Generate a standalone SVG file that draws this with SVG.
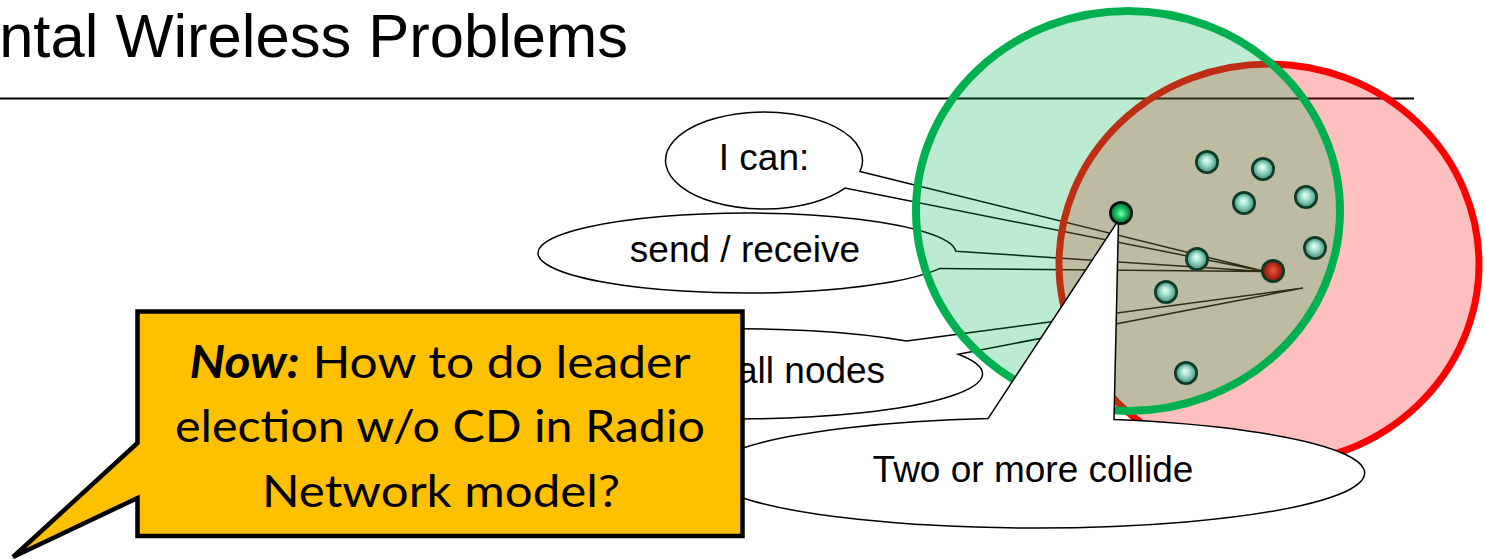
<svg xmlns="http://www.w3.org/2000/svg" width="1485" height="559" viewBox="0 0 1485 559">
  <defs>
    <radialGradient id="gTeal" cx="0.5" cy="0.5" r="0.5" fx="0.45" fy="0.38">
      <stop offset="0" stop-color="#effffa"/>
      <stop offset="0.45" stop-color="#a8e3d3"/>
      <stop offset="1" stop-color="#4e9c85"/>
    </radialGradient>
    <radialGradient id="gGreen" cx="0.5" cy="0.5" r="0.5" fx="0.5" fy="0.55">
      <stop offset="0" stop-color="#7dffb5"/>
      <stop offset="0.5" stop-color="#1fc865"/>
      <stop offset="1" stop-color="#0a7a3a"/>
    </radialGradient>
    <radialGradient id="gRed" cx="0.5" cy="0.5" r="0.5" fx="0.5" fy="0.45">
      <stop offset="0" stop-color="#d9614a"/>
      <stop offset="0.55" stop-color="#c2321e"/>
      <stop offset="1" stop-color="#8c1a10"/>
    </radialGradient>
  </defs>
  <style>
    .title { font-family: "Liberation Sans", Arial, sans-serif; font-size: 61.5px; fill: #000; }
    .rule { stroke: #000; stroke-width: 2; }
    .range-red { fill: #ff0000; fill-opacity: 0.25; stroke: #ff0000; stroke-width: 7; }
    .range-green { fill: #00b050; fill-opacity: 0.26; stroke: #00b050; stroke-width: 8; }
    .ring { fill: #0c3a25; }
    .callout { fill: #fff; stroke: #000; stroke-width: 1.5; stroke-linejoin: miter; }
    .ctext { font-family: "Liberation Sans", Arial, sans-serif; font-size: 37px; fill: #000; }
    .note { fill: #ffc000; stroke: #000; stroke-width: 4.5; stroke-linejoin: miter; }
    .ntext { font-family: Lato, "Open Sans", sans-serif; font-size: 45px; fill: #000; text-anchor: middle; }
  </style>

  <!-- slide heading and rule -->
  <text class="title" x="628" y="57" text-anchor="end">ntal Wireless Problems</text>
  <line class="rule" x1="0" y1="98.5" x2="1414" y2="98.5"/>

  <!-- speech bubbles whose tails run underneath the translucent ranges -->
  <g id="connectors">
    <g id="bubble-ican">
      <path class="callout" d="M860,171.4 L1263,271 L845,188.1 A98.5,48.5 0 1 1 860,171.4 Z"/>
      <text class="ctext" x="764" y="170" text-anchor="middle">I can:</text>
    </g>
    <g id="bubble-sendrecv">
      <path class="callout" d="M955.8,251.2 L1264,271.5 L940,268.4 A209,40 0 1 1 955.8,251.2 Z"/>
      <text class="ctext" x="745" y="262" text-anchor="middle">send / receive</text>
    </g>
    <g id="bubble-allnodes">
      <path class="callout" d="M906.7,341.1 L1303,288 L958.3,354.2 A241,45 0 1 1 906.7,341.1 Z"/>
      <text class="ctext" x="737" y="383">all nodes</text>
    </g>
  </g>

  <!-- transmission ranges -->
  <g id="range-receiver">
    <ellipse class="range-red" cx="1269" cy="264" rx="210" ry="200"/>
  </g>
  <g id="range-sender">
    <ellipse class="range-green" cx="1128" cy="211" rx="212" ry="200"/>
  </g>

  <!-- wireless nodes -->
  <g id="node-1"><circle class="ring" cx="1207" cy="162" r="12"/><circle cx="1207" cy="162" r="9.3" fill="url(#gTeal)"/></g>
  <g id="node-2"><circle class="ring" cx="1263" cy="169" r="12"/><circle cx="1263" cy="169" r="9.3" fill="url(#gTeal)"/></g>
  <g id="node-3"><circle class="ring" cx="1306" cy="197" r="12"/><circle cx="1306" cy="197" r="9.3" fill="url(#gTeal)"/></g>
  <g id="node-4"><circle class="ring" cx="1244" cy="203" r="12"/><circle cx="1244" cy="203" r="9.3" fill="url(#gTeal)"/></g>
  <g id="node-5"><circle class="ring" cx="1315" cy="248" r="12"/><circle cx="1315" cy="248" r="9.3" fill="url(#gTeal)"/></g>
  <g id="node-6"><circle class="ring" cx="1197" cy="259" r="12"/><circle cx="1197" cy="259" r="9.3" fill="url(#gTeal)"/></g>
  <g id="node-7"><circle class="ring" cx="1166" cy="292" r="12"/><circle cx="1166" cy="292" r="9.3" fill="url(#gTeal)"/></g>
  <g id="node-8"><circle class="ring" cx="1186" cy="373" r="12"/><circle cx="1186" cy="373" r="9.3" fill="url(#gTeal)"/></g>
  <g id="node-receiver"><circle class="ring" cx="1273" cy="271" r="12"/><circle cx="1273" cy="271" r="9.3" fill="url(#gRed)"/></g>

  <!-- collision bubble sits above the ranges -->
  <g id="bubble-collide">
    <path class="callout" d="M988,418.6 L1118.5,220 L1114,419.6 A329,55 0 1 1 988,418.6 Z"/>
    <text class="ctext" x="1033" y="482" text-anchor="middle">Two or more collide</text>
  </g>

  <!-- sending node -->
  <g id="node-sender"><circle cx="1121" cy="213" r="12" fill="#06140c"/><circle cx="1121" cy="213" r="9.3" fill="url(#gGreen)"/></g>

  <!-- question callout -->
  <g id="note-question">
    <path class="note" d="M137.5,311.5 H742.5 V536 H137.5 V498 L13,557 L137.5,443 Z"/>
    <text class="ntext" x="440" y="378" textLength="501" lengthAdjust="spacingAndGlyphs"><tspan font-weight="bold" font-style="italic">Now:</tspan> How to do leader</text>
    <text class="ntext" x="440" y="442" textLength="530" lengthAdjust="spacingAndGlyphs">election w/o CD in Radio</text>
    <text class="ntext" x="441" y="507" textLength="358" lengthAdjust="spacingAndGlyphs">Network model?</text>
  </g>
</svg>
